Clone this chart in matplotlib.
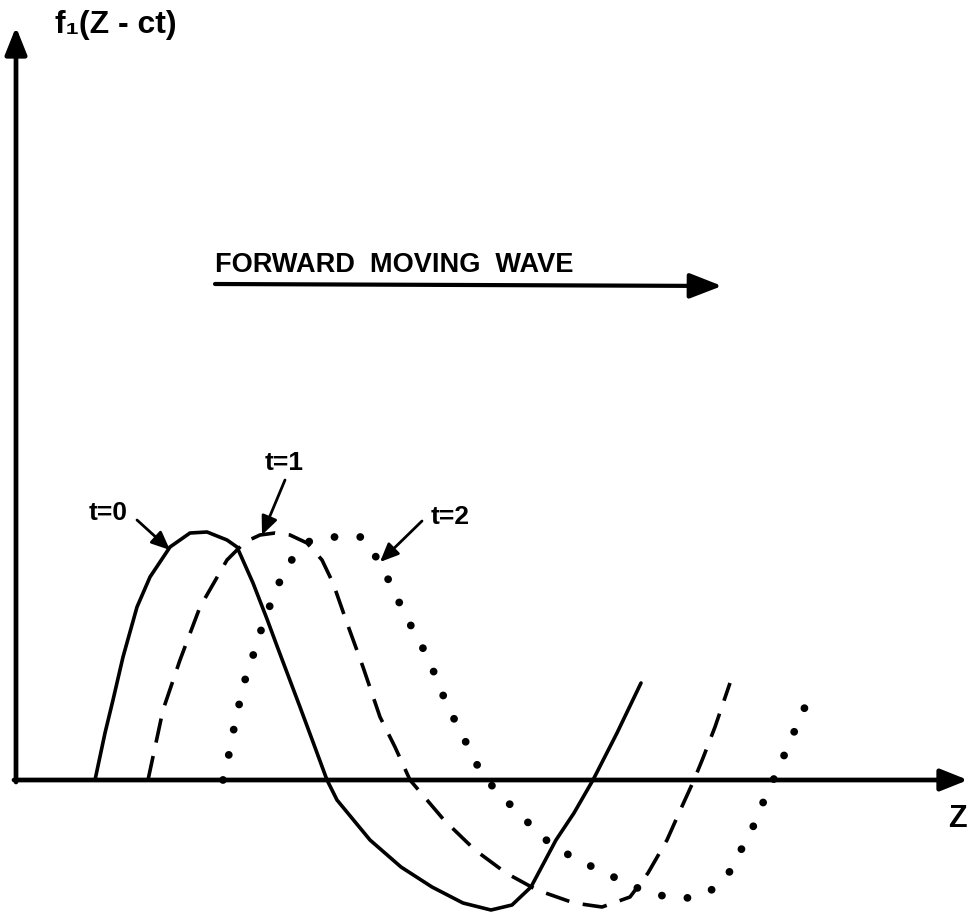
import matplotlib
matplotlib.use("Agg")
import matplotlib.pyplot as plt

# wave shape (Z along the axis, f above/below it)
z_t0 = [0.79, 0.89, 0.97, 1.07, 1.21, 1.34, 1.54, 1.74, 1.91, 2.11, 2.21, 2.37, 2.51,
        2.61, 2.84, 2.97, 3.11, 3.21, 3.54, 3.85, 4.16, 4.47, 4.75, 4.96, 5.15, 5.40,
        5.58, 5.77, 6.01, 6.25]
f_t0 = [0.0, 0.47, 0.80, 1.23, 1.73, 2.03, 2.33, 2.47, 2.48, 2.40, 2.33, 1.97, 1.61,
        1.34, 0.73, 0.38, 0.0, -0.20, -0.60, -0.87, -1.07, -1.23, -1.30, -1.25, -1.07,
        -0.60, -0.33, 0.0, 0.47, 0.97]

z_t1 = [1.32, 1.47, 1.64, 1.84, 2.11, 2.29, 2.44, 2.59, 2.74, 2.91, 3.06, 3.17, 3.31,
        3.47, 3.64, 3.79, 3.94, 4.28, 4.59, 4.90, 5.21, 5.58, 5.86, 6.14, 6.32, 6.51,
        6.63, 6.78, 6.87, 6.99, 7.14]
f_t1 = [0.0, 0.70, 1.20, 1.73, 2.20, 2.38, 2.45, 2.47, 2.45, 2.37, 2.20, 1.97, 1.57,
        1.13, 0.63, 0.33, 0.0, -0.40, -0.70, -0.93, -1.10, -1.23, -1.27, -1.17, -0.93,
        -0.60, -0.33, 0.0, 0.22, 0.53, 0.97]

z_t2 = [2.07, 2.11, 2.14, 2.18, 2.23, 2.28, 2.36, 2.43, 2.53, 2.62, 2.74, 2.91, 3.17,
        3.46, 3.60, 3.72, 3.82, 3.94, 4.05, 4.17, 4.29, 4.42, 4.55, 4.65, 4.84, 5.03,
        5.21, 5.36, 5.58, 5.83, 6.04, 6.26, 6.51, 6.75, 7.00, 7.15, 7.25, 7.37, 7.46,
        7.56, 7.65, 7.74, 7.84, 7.93]
f_t2 = [0.0, 0.15, 0.32, 0.52, 0.75, 0.97, 1.21, 1.44, 1.72, 1.95, 2.18, 2.38, 2.43,
        2.43, 2.23, 2.01, 1.80, 1.56, 1.36, 1.10, 0.80, 0.53, 0.28, 0.07, -0.15, -0.33,
        -0.52, -0.65, -0.78, -0.90, -1.00, -1.10, -1.17, -1.18, -1.08, -0.90, -0.70,
        -0.47, -0.25, -0.03, 0.17, 0.39, 0.61, 0.83]

# labels and where their pointer arrows land
time_labels = ["t=0", "t=1", "t=2"]
label_pos = [(0.92, 2.67), (2.68, 3.17), (4.34, 2.63)]
arrow_from = [(1.21, 2.60), (2.69, 3.00), (4.06, 2.59)]
arrow_to = [(1.54, 2.30), (2.46, 2.45), (3.64, 2.18)]

lettering = ["Liberation Sans", "DejaVu Sans"]

fig = plt.figure(figsize=(9.68, 9.13), dpi=100)
ax = fig.add_axes([0, 0, 1, 1])
ax.set_xlim(-0.16, 9.52)
ax.set_ylim(-1.33, 7.80)
ax.axis("off")

# coordinate axes with arrow heads
axis_arrow = dict(arrowstyle="-|>,head_length=0.75,head_width=0.3", lw=3.4,
                  color="black", shrinkA=0, shrinkB=0, mutation_scale=22)
ax.annotate("", xy=(9.52, 0), xytext=(-0.02, 0), arrowprops=axis_arrow)
ax.annotate("", xy=(0, 7.53), xytext=(0, -0.02), arrowprops=axis_arrow)

# the three snapshots of the wave
ax.plot(z_t0, f_t0, color="black", lw=2.6, solid_capstyle="round", solid_joinstyle="round")
ax.plot(z_t1, f_t1, color="black", lw=2.6, linestyle=(0, (6.8, 3.8)), dash_capstyle="butt")
ax.plot(z_t2, f_t2, color="black", lw=5.6, linestyle=(0, (0.01, 3.3)), dash_capstyle="round")

# axis names
ax.text(0.39, 7.55, "f\u2081(Z - ct)", family=lettering, fontweight="bold",
        fontsize=23, ha="left", va="center")
ax.text(9.41, -0.39, "Z", family=lettering, fontweight="bold", fontsize=22,
        ha="center", va="center")

# direction of travel
ax.text(1.99, 5.15, "FORWARD  MOVING  WAVE", family=lettering,
        fontweight="bold", fontsize=19.5, ha="left", va="center")
ax.annotate("", xy=(7.06, 4.94), xytext=(1.99, 4.96),
            arrowprops=dict(arrowstyle="-|>,head_length=0.9,head_width=0.35", lw=3.0,
                            color="black", shrinkA=0, shrinkB=0, mutation_scale=22))

# time labels
for lab, pos, a0, a1 in zip(time_labels, label_pos, arrow_from, arrow_to):
    ax.text(pos[0], pos[1], lab, family=lettering, fontweight="bold", fontsize=19,
            ha="center", va="center")
    ax.annotate("", xy=a1, xytext=a0,
                arrowprops=dict(arrowstyle="-|>,head_length=0.8,head_width=0.35", lw=2.0,
                                color="black", shrinkA=0, shrinkB=0, mutation_scale=14))

fig.savefig("out.png", dpi=100, facecolor="white")
